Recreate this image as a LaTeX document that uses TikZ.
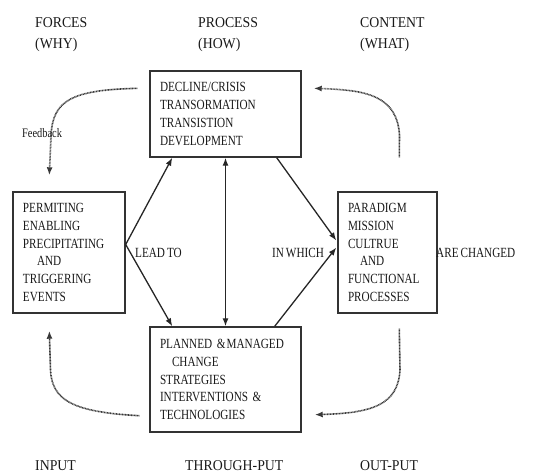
\documentclass[tikz,border=0pt]{standalone}
\usepackage{fontspec}
\setmainfont{Liberation Serif}
\newfontfamily\boxfont[FakeStretch=0.80,WordSpace=0.7]{Liberation Serif}
\newfontfamily\headfont[FakeStretch=0.92]{Liberation Serif}
\usetikzlibrary{arrows.meta,calc}
\begin{document}
\begin{tikzpicture}[x=1pt,y=-1pt,
  box/.style={draw=black!80,line width=1.4pt,rectangle,inner xsep=10pt,inner ysep=0pt,
    align=left,text=black!90,font=\boxfont\fontsize{14}{17.7}\selectfont},
  head/.style={anchor=base west,inner sep=0pt,text=black!90,font=\headfont\fontsize{15}{17}\selectfont},
  lbl/.style={anchor=base west,inner sep=0pt,text=black!90,font=\boxfont\fontsize{14}{15}\selectfont},
  arr/.style={line width=1.3pt,black!85,-{Latex[length=8pt,width=6pt]}},
  darr/.style={line width=1.3pt,black!85,{Latex[length=8pt,width=6pt]}-{Latex[length=8pt,width=6pt]}},
  fb/.style={line width=1.6pt,black!78,dash pattern=on 0.9pt off 0.6pt,-{Latex[length=8pt,width=6pt]}}
]
\useasboundingbox (0,0) rectangle (560,475);

% headings
\node[head] (h1a) at (35,27) {FORCES};
\node[head] (h1b) at (35,48.5) {(WHY)};
\node[head] (h2a) at (198,27) {PROCESS};
\node[head] (h2b) at (198,48.5) {(HOW)};
\node[head] (h3a) at (360,27) {CONTENT};
\node[head] (h3b) at (360,48.5) {(WHAT)};
\node[head] (f1) at (35,470.5) {INPUT};
\node[head] (f2) at (185,470.5) {THROUGH-PUT};
\node[head] (f3) at (360,470.5) {OUT-PUT};

% boxes
\node[box,minimum width=151pt,minimum height=86pt,text width=131pt] (top) at (225.5,114)
  {DECLINE/CRISIS\\TRANSORMATION\\TRANSISTION\\DEVELOPMENT};
\node[box,minimum width=112pt,minimum height=121pt,text width=92pt] (left) at (69,252.5)
  {PERMITING\\ENABLING\\PRECIPITATING\\\hspace*{14pt}AND\\TRIGGERING\\EVENTS};
\node[box,minimum width=99pt,minimum height=121pt,text width=79pt] (right) at (387.5,252.5)
  {PARADIGM\\MISSION\\CULTRUE\\\hspace*{12pt}AND\\FUNCTIONAL\\PROCESSES};
\node[box,minimum width=151pt,minimum height=105pt,text width=131pt] (bot) at (225.5,379.5)
  {PLANNED \&\hspace{1pt}MANAGED\\\hspace*{12pt}CHANGE\\STRATEGIES\\INTERVENTIONS \&\\TECHNOLOGIES};

% labels
\node[lbl] (lead) at (135,257) {LEAD TO};
\node[lbl] (which) at (272,257) {IN WHICH};
\node[lbl] (changed) at (436,257) {ARE CHANGED};
\node[anchor=base west,inner sep=0pt,text=black!90,font=\boxfont\fontsize{13}{14}\selectfont] (feed) at (22,137.5) {Feedback};

% solid connectors
\coordinate (ls) at ($(left.east)+(0,-8)$);
\draw[arr] (ls) -- ($(top.south west)+(23,0)$);
\draw[arr] (ls) -- ($(bot.north west)+(23,0)$);
\draw[darr] (top.south) -- (bot.north);
\draw[arr] ($(top.south east)+(-25,0)$) -- ($(right.west)+(-1,-12)$);
\draw[arr] ($(bot.north east)+(-27,0)$) -- ($(right.west)+(-1,-5)$);

% feedback loops
\coordinate (tlS) at ($(top.north west)+(-12,18)$);
\coordinate (tlE) at ($(left.north west)+(37,-16)$);
\draw[fb] (tlS) .. controls (72,90) and (53,100) .. (51,135) -- (tlE);

\coordinate (trS) at ($(right.north west)+(62,-34)$);
\coordinate (trE) at ($(top.north east)+(12,18)$);
\draw[fb] (trS) -- (399.5,135) .. controls (397,95) and (365,90) .. (trE);

\coordinate (blS) at ($(bot.south west)+(-10,-17)$);
\coordinate (blE) at ($(left.south west)+(37,17)$);
\draw[fb] (blS) .. controls (72,412) and (52,400) .. (50.5,370) -- (blE);

\coordinate (brS) at ($(right.south west)+(62,15)$);
\coordinate (brE) at ($(bot.south east)+(13,-18)$);
\draw[fb] (brS) -- (400,370) .. controls (398,405) and (372,413) .. (brE);
\end{tikzpicture}
\end{document}
